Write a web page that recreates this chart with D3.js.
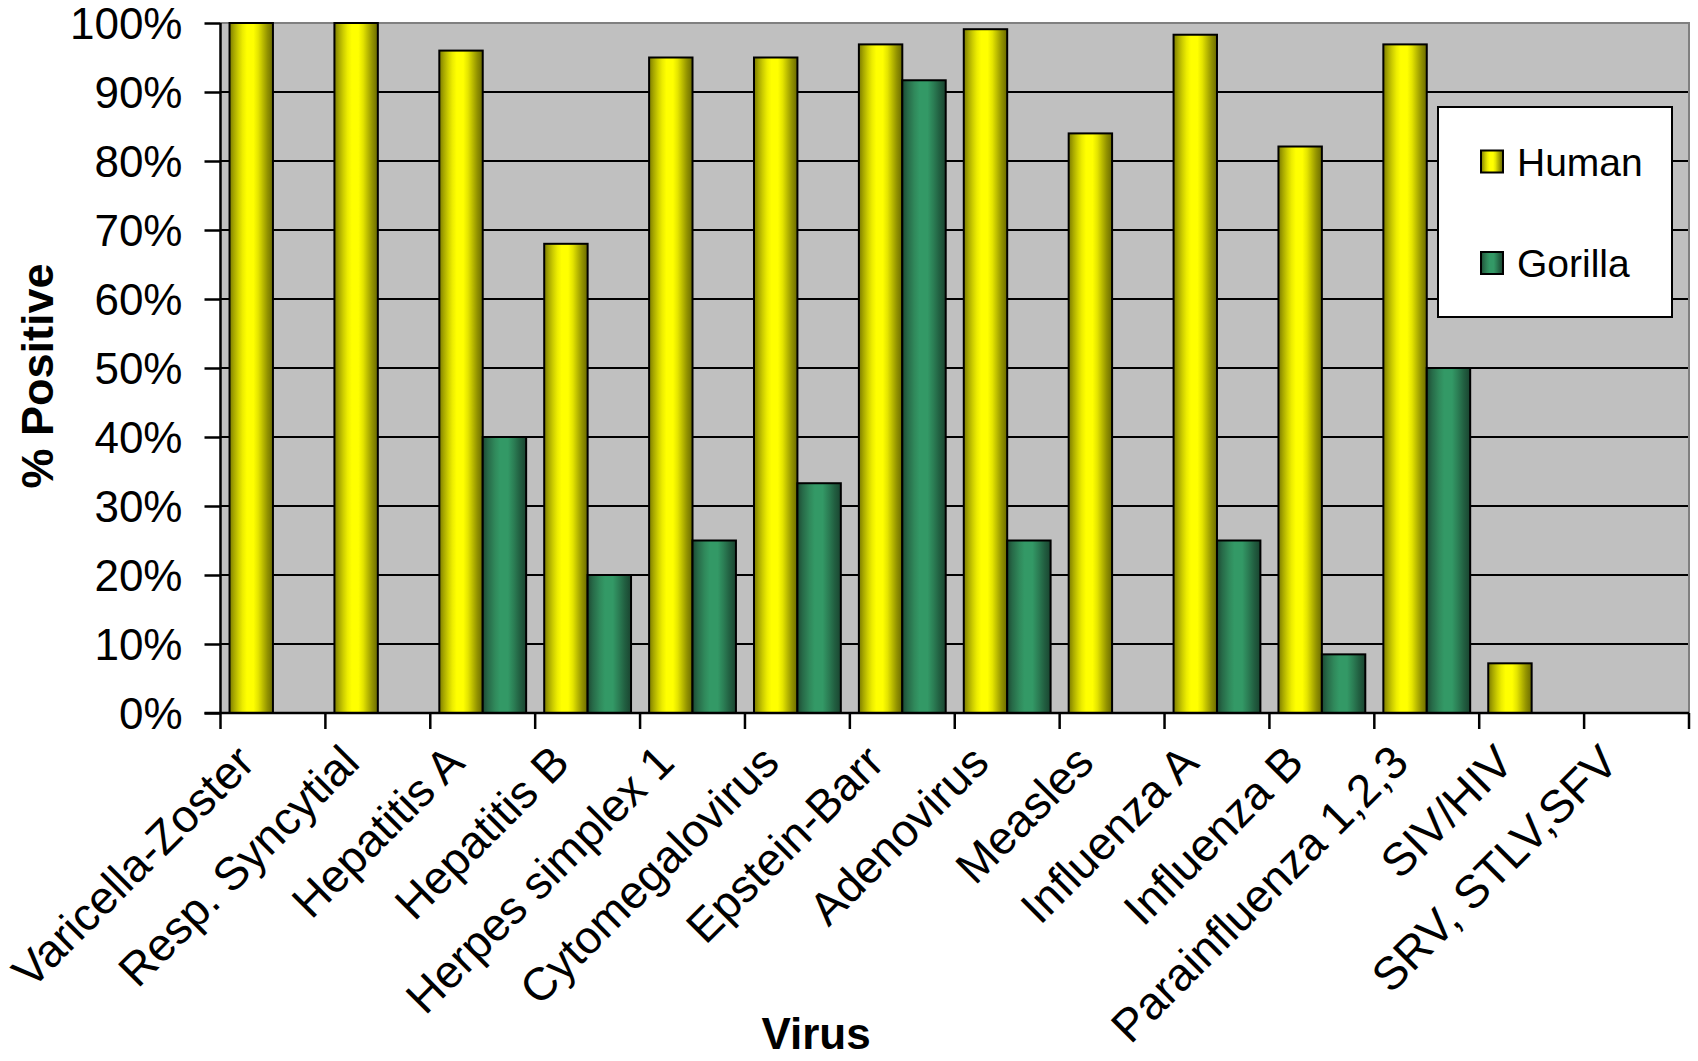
<!DOCTYPE html>
<html>
<head>
<meta charset="utf-8">
<script src="https://cdn.jsdelivr.net/npm/d3@7"></script>
<style>
  html, body { margin: 0; padding: 0; background: #ffffff; }
  svg { display: block; font-family: "Liberation Sans", Arial, sans-serif; }
</style>
</head>
<body>
<svg id="chart" width="1698" height="1061"></svg>
<script>
// ---------------- DATA ----------------
const categories = [
  "Varicella-Zoster", "Resp. Syncytial", "Hepatitis A", "Hepatitis B",
  "Herpes simplex 1", "Cytomegalovirus", "Epstein-Barr", "Adenovirus",
  "Measles", "Influenza A", "Influenza B", "Parainfluenza 1,2,3",
  "SIV/HIV", "SRV, STLV,SFV"
];
const seriesNames = ["Human", "Gorilla"];
const humanValues   = [100, 100, 96, 68, 95, 95, 96.9, 99.1, 84, 98.3, 82.1, 96.9, 7.2, null];
const gorillaValues = [null, null, 40, 20, 25, 33.3, 91.7, 25, null, 25, 8.5, 50, null, null];
const yTickValues = [0, 10, 20, 30, 40, 50, 60, 70, 80, 90, 100];
const yTickLabels = ["0%", "10%", "20%", "30%", "40%", "50%", "60%", "70%", "80%", "90%", "100%"];
const yAxisTitle = "% Positive";
const xAxisTitle = "Virus";

// ---------------- LAYOUT ----------------
const svg = d3.select("#chart");
const plot = { left: 220.5, right: 1689, top: 23, bottom: 713 };

const defs = svg.append("defs");
function addGradient(id, stops) {
  const g = defs.append("linearGradient").attr("id", id)
    .attr("x1", "0%").attr("x2", "100%").attr("y1", "0%").attr("y2", "0%");
  stops.forEach(([o, c]) => g.append("stop").attr("offset", o).attr("stop-color", c));
}
addGradient("gradHuman", [
  ["0%", "#7a7a00"], ["10%", "#a6a600"], ["20%", "#cccc00"], ["30%", "#ecec00"],
  ["40%", "#ffff00"], ["55%", "#ffff00"], ["66%", "#e4e400"], ["76%", "#bdbd00"],
  ["87%", "#939300"], ["100%", "#6a6a00"]
]);
addGradient("gradGorilla", [
  ["0%", "#1d4a33"], ["12%", "#276a48"], ["28%", "#30895b"], ["40%", "#339966"],
  ["58%", "#339966"], ["72%", "#2b7d54"], ["86%", "#215e40"], ["100%", "#1a4430"]
]);
const fills = { Human: "url(#gradHuman)", Gorilla: "url(#gradGorilla)" };

const x0 = d3.scaleBand().domain(categories).range([plot.left, plot.right]).paddingInner(0).paddingOuter(0);
const x1 = d3.scaleBand().domain(seriesNames).range([0, x0.bandwidth()]).paddingInner(0).paddingOuter(0.208);
const y = d3.scaleLinear().domain([0, 100]).range([plot.bottom, plot.top]);

// plot background
svg.append("rect")
  .attr("x", plot.left).attr("y", plot.top)
  .attr("width", plot.right - plot.left).attr("height", plot.bottom - plot.top)
  .attr("fill", "#c0c0c0");

// gridlines
svg.append("g").selectAll("line")
  .data(yTickValues.filter(v => v > 0 && v < 100))
  .join("line")
  .attr("x1", plot.left).attr("x2", plot.right)
  .attr("y1", d => y(d)).attr("y2", d => y(d))
  .attr("stroke", "#000").attr("stroke-width", 2);

// plot border (top & right gray)
svg.append("path")
  .attr("d", `M${plot.left},${plot.top}H${plot.right}V${plot.bottom}`)
  .attr("fill", "none").attr("stroke", "#808080").attr("stroke-width", 2);

// bars
const rows = categories.map((c, i) => ({ cat: c, vals: [
  { s: "Human", v: humanValues[i] }, { s: "Gorilla", v: gorillaValues[i] }
]}));
svg.append("g").selectAll("g")
  .data(rows).join("g")
  .attr("transform", d => `translate(${x0(d.cat)},0)`)
  .selectAll("rect")
  .data(d => d.vals.filter(e => e.v !== null))
  .join("rect")
  .attr("x", d => x1(d.s))
  .attr("width", x1.bandwidth())
  .attr("y", d => y(d.v))
  .attr("height", d => y(0) - y(d.v))
  .attr("fill", d => fills[d.s])
  .attr("stroke", "#000").attr("stroke-width", 2);

// y axis
const yAxis = d3.axisLeft(y).tickValues(yTickValues)
  .tickFormat((d, i) => yTickLabels[i]).tickSize(16).tickPadding(22);
const gy = svg.append("g").attr("transform", `translate(${plot.left},0)`).call(yAxis);
gy.select(".domain").attr("stroke", "#000").attr("stroke-width", 2.5).attr("d", `M0,${plot.top}V${plot.bottom}`);
gy.selectAll(".tick line").attr("stroke", "#000").attr("stroke-width", 2.5);
gy.selectAll(".tick text").attr("font-size", 44).attr("fill", "#000")
  .attr("font-family", "Liberation Sans, Arial, sans-serif").attr("dy", "0.36em");

// x axis
const xAxis = d3.axisBottom(x0).tickSize(0).tickFormat("");
const gx = svg.append("g").attr("transform", `translate(0,${plot.bottom})`).call(xAxis);
gx.select(".domain").attr("stroke", "#000").attr("stroke-width", 2.5).attr("d", `M${plot.left - 16},0H${plot.right}`);
gx.selectAll(".tick").remove();
// category boundary ticks
const boundaries = categories.map(c => x0(c)).concat([plot.right]);
gx.append("g").selectAll("line").data(boundaries).join("line")
  .attr("x1", d => d).attr("x2", d => d).attr("y1", 0).attr("y2", 16)
  .attr("stroke", "#000").attr("stroke-width", 2.5);
// rotated category labels
gx.append("g").selectAll("text").data(categories).join("text")
  .attr("transform", d => `translate(${x0(d) + x0.bandwidth() / 2 - 16},${52}) rotate(-45)`)
  .attr("text-anchor", "end")
  .attr("font-size", 46).attr("fill", "#000")
  .text(d => d);

// axis titles
svg.append("text")
  .attr("transform", `translate(53,376) rotate(-90)`)
  .attr("text-anchor", "middle")
  .attr("font-size", 45).attr("font-weight", "bold").attr("fill", "#000")
  .text(yAxisTitle);
svg.append("text")
  .attr("x", 816).attr("y", 1049)
  .attr("text-anchor", "middle")
  .attr("font-size", 44).attr("font-weight", "bold").attr("fill", "#000")
  .text(xAxisTitle);

// legend
const legend = svg.append("g");
legend.append("rect")
  .attr("x", 1438).attr("y", 107).attr("width", 234).attr("height", 210)
  .attr("fill", "#fff").attr("stroke", "#000").attr("stroke-width", 2);
const legendRowY = d3.scalePoint().domain(seriesNames).range([161.5, 263]);
const li = legend.selectAll("g.item").data(seriesNames).join("g").attr("class", "item")
  .attr("transform", d => `translate(1481,${legendRowY(d)})`);
li.append("rect").attr("x", 0).attr("y", -11).attr("width", 22).attr("height", 22)
  .attr("fill", d => fills[d]).attr("stroke", "#000").attr("stroke-width", 2);
li.append("text").attr("x", 36).attr("y", 0).attr("dy", "0.36em")
  .attr("font-size", 39).attr("fill", "#000").text(d => d);
</script>
</body>
</html>
